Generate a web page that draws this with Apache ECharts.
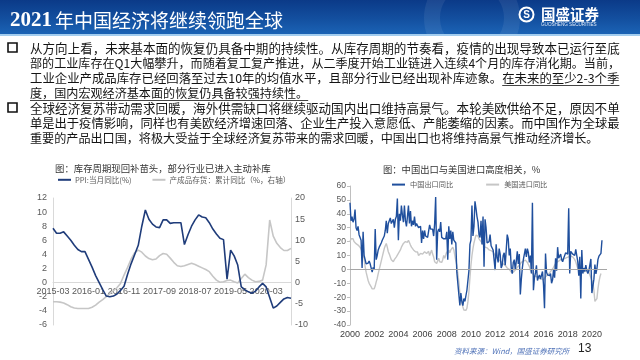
<!DOCTYPE html>
<html><head><meta charset="utf-8">
<script src="https://cdn.jsdelivr.net/npm/echarts/dist/echarts.min.js"></script>
<style>html,body{margin:0;padding:0;background:#fff;}#c{width:640px;height:360px;}</style>
</head><body><div id="c"></div>
<script>
// ---------------- text content ----------------
const slideTitle = '{a|2021}{b|年中国经济将继续领跑全球}';
const para1 = [
  '从方向上看，未来基本面的恢复仍具备中期的持续性。从库存周期的节奏看，疫情的出现导致本已运行至底',
  '部的工业库存在Q1大幅攀升，而随着复工复产推进，从二季度开始工业链进入连续4个月的库存消化期。当前，',
  '工业企业产成品库存已经回落至过去10年的均值水平，且部分行业已经出现补库迹象。在未来的至少2-3个季',
  '度，国内宏观经济基本面的恢复仍具备较强持续性。'
];
const para1Underline = '在未来的至少2-3个季';
const para2 = [
  '全球经济复苏带动需求回暖，海外供需缺口将继续驱动国内出口维持高景气。本轮美欧供给不足，原因不单',
  '单是出于疫情影响，同样也有美欧经济增速回落、企业生产投入意愿低、产能萎缩的因素。而中国作为全球最',
  '重要的产品出口国，将极大受益于全球经济复苏带来的需求回暖，中国出口也将维持高景气推动经济增长。'
];
const leftTitle = '图：库存周期现回补苗头，部分行业已进入主动补库';
const rightTitle = '图：中国出口与美国进口高度相关，%';
const ppiName = 'PPI:当月同比(%)';
const invName = '产成品存货：累计同比（%，右轴）';
const cnName = '中国出口同比';
const usName = '美国进口同比';
const sourceText = '资料来源：Wind，国盛证券研究所';
const pageNo = '13';

// ---------------- left chart data (monthly, 2015-03 .. 2020-10) ----------------
const ppiStart = [2015, 3];
const ppiYoY = [
  7.7,7.0,7.0,7.2,6.6,6.0,5.3,4.7,4.4,4.4,
  3.3,2.2,1.0,0.0,-1.0,-1.9,-2.0,-1.9,-1.6,-1.1,
  -0.5,1.2,2.7,4.0,5.3,8.0,10.3,9.0,8.3,7.9,
  7.8,8.9,8.9,8.4,8.5,8.5,8.5,5.4,6.8,8.0,
  8.9,9.6,9.3,9.2,8.5,7.6,6.9,6.3,6.1,0.5,
  4.6,3.8,2.5,-0.6,-1.0,-1.3,-1.5,-1.2,-0.6,-0.1,
  -0.6,-2.1,-3.6,-3.3,-2.8,-2.3,-2.1,-2.2
];
const inventoryYoY = [
  -4.5,-4.5,-4.6,-4.8,-5.2,-5.7,-6.0,-6.1,-6.1,-6.1,
  -6.1,-5.8,-5.3,-4.6,-4.0,-3.3,-2.6,-1.9,-1.2,-0.2,
  1.8,3.6,5.6,7.1,7.7,7.2,6.3,5.7,5.4,5.6,
  6.4,6.9,6.7,5.8,4.8,4.0,3.8,4.0,4.3,4.6,
  4.3,3.9,3.5,3.1,2.6,1.5,0.6,0.1,0.2,0.5,
  0.6,0.2,-0.1,1.0,2.0,1.2,0.6,0.2,0.3,0.6,
  4.2,14.8,11.0,9.3,8.3,7.6,7.6,8.1
];
const leftTicks = {min:-6, max:12, interval:2};
const rightTicks = {min:-10, max:20, interval:5};

// ---------------- right chart data (monthly from 2000-01) ----------------
const tradeStart = [2000, 1];
const chinaExportYoY = [
  48,35,38,34,36,43,30,28,31,25,26,21,          // 2000
  1,27,10,11,4,3,4.5,6,4,3,-2,1.5,              // 2001
  0,29,7,10,14,16,15,19,21,22,24,28,            // 2002
  35,26,33,32,37,33,32,36,30,36,38,51,          // 2003
  21,40,35,46,39,34,46,35,31,38,46,33,          // 2004
  42,31,35,32,38,31,33,32,30,29,31,19,          // 2005
  28,22,28,24,25,23,23,32,29,29,29,24,          // 2006
  33,52,7,27,29,27,34,23,23,22,23,22,           // 2007
  27,7,31,22,28,18,27,21,22,19,-2,-3,           // 2008
  -18,-26,-17,-23,-26,-21,-23,-23,-15,-14,-1,18,// 2009
  21,46,24,31,49,44,38,34,25,23,35,18,          // 2010
  38,2,36,30,19,18,20,25,17,16,14,13,           // 2011
  -0.5,18,9,5,15,11,1,3,10,12,3,14,             // 2012
  25,22,10,15,1,-3,5,7,-0.3,6,13,4,             // 2013
  11,-18,-7,1,7,7,15,9,15,12,5,10,              // 2014
  -3,48,-15,-6,-2.5,3,-8,-5.5,-4,-7,-7,-1.5,    // 2015
  -11,-28,11.5,-2,-4,-5,-4.5,-3,-10,-7.5,0,-6,  // 2016
  8,-1,16,8,9,11,7,5.5,8,7,12,11,               // 2017
  11,44,-3,13,12.5,11,12,10,14.5,15.5,5.5,-4.5, // 2018
  9,-21,14,-3,1,-1.5,3,-1,-3,-1,-1,7.5,         // 2019
  -17,-17,-7,3.5,-3.3,0.5,7,9.5,10,11.5,21      // 2020
];
const usImportYoY = [
  19.9,22,23.4,22,20,19,18.5,18,17.5,17.5,16,14.5,        // 2000
  12.7,10,8,2,-2,-5,-8,-10,-11,-12.5,-14,-14.8,           // 2001
  -14,-12,-9,-6.5,-3,0,3,6,9,12,15,17,                    // 2002
  18.7,16,12.7,11,9,7,6,5.5,7,8,9,10,                     // 2003
  11.5,12.7,14,16,17,18.7,19.5,20,19,19.5,21,20,          // 2004
  17.5,16,15,14,13,12.7,13.9,12.5,10,11,11.5,12.7,        // 2005
  11,10,12.7,13.9,11.5,12.7,13,10,12,13.9,11,9,           // 2006
  5.5,6.7,4.3,5,8,5.5,6.7,5,7,10,8,9,                     // 2007
  12.7,11,13.9,12,14,15,16,14,10,6,3,-3,                  // 2008
  -9,-17,-20,-24.4,-27,-29.2,-30.4,-29.5,-28,-23.2,-16,-6,// 2009
  3,10,15,19,22,24.6,26,24,22,21,20,19,                   // 2010
  18,17.5,16,16,15.5,15,14,13.9,13.5,13,12.7,11.5,        // 2011
  10,9,8,7,6.7,6,5.5,5,4,3.5,3,2,                         // 2012
  1,0.7,0,-0.5,-2,-3,-2,-1,-0.5,0.5,1.5,2,                // 2013
  3,4,5,5.5,6,6.5,6.7,6,5,4.3,2,-0.5,                     // 2014
  -2,-3,-4,-4.5,-5,-5.3,-5.5,-6,-6.5,-6.5,-7,-7.7,        // 2015
  -7.5,-6.5,-5.3,-5,-4,-3,-2.5,-1.5,-0.5,0.7,1.5,3,       // 2016
  4.3,5,5.5,6,6.7,7,7.4,7.4,7.5,7.8,8,8.5,                // 2017
  9,9,9,9.5,9,9,8,7,5.5,3,0.7,0,                          // 2018
  -0.5,-0.5,-1,-1.5,-1.7,-1.5,-1,-0.5,-0.5,-2,-4,-6,      // 2019
  -8,-10,-15,-23,-24,-21,-14,-9,-5.3,-3,null              // 2020
];
const tradeTicks = {min:-40, max:60, interval:10};
const tradeAxisMonths = 256; // axis runs 2000-01 .. 2021-04

// ---------------- helpers ----------------
function monthRange(start, count){
  const out=[]; let y=start[0], m=start[1];
  for(let i=0;i<count;i++){ out.push(y+'-'+String(m).padStart(2,'0')); m++; if(m>12){m=1;y++;} }
  return out;
}
const ppiMonths = monthRange(ppiStart, ppiYoY.length);
const tradeMonths = monthRange(tradeStart, tradeAxisMonths);

const CJK = '"Noto Sans CJK SC", sans-serif';
const NUM = '"Liberation Sans Narrow", "Arial Narrow", "Liberation Sans", sans-serif';
const ctx = document.createElement('canvas').getContext('2d');
function tw(s, size){ ctx.font = size + 'px ' + CJK; return ctx.measureText(s).width; }

const textLeft = 30, textRight = 620, baseSize = 12.1;
const graphics = [];
// title bar
graphics.push({type:'rect', z:0, shape:{x:0,y:0,width:640,height:34}, style:{fill:new echarts.graphic.LinearGradient(0,0,0,1,[{offset:0,color:'#0b3a88'},{offset:0.55,color:'#134f9f'},{offset:1,color:'#1b63b5'}])}});
graphics.push({type:'circle', z:1, shape:{cx:472,cy:18,r:40}, style:{fill:'none', stroke:'rgba(255,255,255,0.07)', lineWidth:16}});
graphics.push({type:'rect', z:1, shape:{x:0,y:34,width:640,height:2}, style:{fill:'#a3cdef'}});
graphics.push({type:'text', z:2, x:10, y:20.5, style:{text:slideTitle, verticalAlign:'middle', textVerticalAlign:'middle',
  rich:{a:{fontFamily:'"Liberation Serif", serif', fontWeight:'bold', fontSize:21, fill:'#fff', color:'#fff'},
        b:{fontFamily:CJK, fontSize:19, fill:'#fff', color:'#fff', padding:[0,0,0,3]}}}});
// logo
graphics.push({type:'circle', z:2, shape:{cx:526.5,cy:14.5,r:7}, style:{fill:'none', stroke:'#fff', lineWidth:2}});
graphics.push({type:'text', z:2, x:526.5, y:14.8, style:{text:'S', fontFamily:'"Liberation Sans", sans-serif', fontWeight:'bold', fontSize:10, fill:'#fff', align:'center', textAlign:'center', verticalAlign:'middle', textVerticalAlign:'middle'}});
graphics.push({type:'text', z:2, x:541, y:14, style:{text:'国盛证券', fontFamily:CJK, fontWeight:'bold', fontSize:14.5, fill:'#fff', verticalAlign:'middle', textVerticalAlign:'middle'}});
graphics.push({type:'text', z:2, x:541, y:24.5, style:{text:'GUOSHENG SECURITIES', fontFamily:'"Liberation Sans", sans-serif', fontSize:4.6, fill:'#dfe9f7', verticalAlign:'middle', textVerticalAlign:'middle'}});

function addPara(lines, ys, justified, underlineFrom){
  lines.forEach((s,i)=>{
    let size = baseSize;
    if(justified[i]) size = baseSize*(textRight-textLeft)/tw(s, baseSize);
    graphics.push({type:'text', z:2, x:textLeft, y:ys[i], style:{text:s, fontFamily:CJK, fontSize:size, fill:'#141414', verticalAlign:'middle', textVerticalAlign:'middle'}});
    if(underlineFrom && underlineFrom[i] !== undefined){
      const k = underlineFrom[i] === 0 ? 0 : s.indexOf(underlineFrom[i]);
      const x1 = textLeft + (k>0 ? tw(s.slice(0,k), size) : 0);
      const x2 = textLeft + tw(s, size);
      graphics.push({type:'line', z:2, shape:{x1:x1,y1:ys[i]+7.5,x2:x2,y2:ys[i]+7.5}, style:{stroke:'#141414', lineWidth:0.8}});
    }
  });
}
addPara(para1, [48,63,78,93], [true,true,true,false], {2:para1Underline, 3:0});
addPara(para2, [108,123,138], [true,true,false], null);
[43,103].forEach(y=>graphics.push({type:'rect', z:2, shape:{x:8,y:y,width:9,height:9}, style:{fill:'#fff', stroke:'#111', lineWidth:1.6}}));
// footer
graphics.push({type:'text', z:2, x:454, y:351, style:{text:sourceText, fontFamily:CJK, fontStyle:'italic', fontSize:7.5, fill:'#4f72b8', verticalAlign:'middle', textVerticalAlign:'middle'}});
graphics.push({type:'text', z:2, x:578, y:349, style:{text:pageNo, fontFamily:'"Liberation Sans", sans-serif', fontSize:12, fill:'#222', verticalAlign:'middle', textVerticalAlign:'middle'}});

const axisLbl = {fontFamily:NUM, fontSize:9, color:'#595959'};
const leftGrid = {left:53, top:198, width:238, height:127};
// x axis sits on the zero of the left value axis
const zeroOffset = -leftGrid.height * (0 - leftTicks.min) / (leftTicks.max - leftTicks.min);

const option = {
  animation:false,
  backgroundColor:'#fff',
  graphic:{elements:graphics},
  title:[
    {text:leftTitle, left:55, top:162, padding:0, textStyle:{fontFamily:CJK, fontSize:9.4, fontWeight:'normal', color:'#333', lineHeight:12}},
    {text:rightTitle, left:383, top:163, padding:0, textStyle:{fontFamily:CJK, fontSize:9.3, fontWeight:'normal', color:'#333', lineHeight:12}}
  ],
  legend:[
    {data:[ppiName, invName], left:58, top:176, padding:0, itemWidth:13, itemHeight:2, itemGap:21, icon:'rect',
     textStyle:{fontFamily:CJK, fontSize:7.6, color:'#595959', padding:[0,0,0,-1]}},
    {data:[cnName, usName], left:392, top:181, padding:0, itemWidth:13, itemHeight:2, itemGap:33, icon:'rect',
     textStyle:{fontFamily:CJK, fontSize:7.2, color:'#595959'}}
  ],
  grid:[
    leftGrid,
    {left:350, top:186, width:257, height:139}
  ],
  xAxis:[
    {type:'category', gridIndex:0, data:ppiMonths, boundaryGap:false, position:'bottom', offset:zeroOffset,
     axisLine:{show:true, onZero:false, lineStyle:{color:'#d9d9d9', width:1}},
     axisTick:{show:false}, axisLabel:Object.assign({interval:9, margin:4}, axisLbl), splitLine:{show:false}},
    {type:'category', gridIndex:1, data:tradeMonths, boundaryGap:false,
     axisLine:{show:false, onZero:false}, axisTick:{show:false},
     axisLabel:Object.assign({interval:(i)=>i%24===0, formatter:(v)=>v.slice(0,4), margin:5}, axisLbl, {color:'#404040'}),
     splitLine:{show:false}}
  ],
  yAxis:[
    {type:'value', gridIndex:0, position:'left', min:leftTicks.min, max:leftTicks.max, interval:leftTicks.interval,
     axisLine:{show:true, lineStyle:{color:'#d9d9d9'}}, axisTick:{show:false}, splitLine:{show:false},
     axisLabel:Object.assign({margin:6}, axisLbl)},
    {type:'value', gridIndex:0, position:'right', min:rightTicks.min, max:rightTicks.max, interval:rightTicks.interval,
     axisLine:{show:true, lineStyle:{color:'#d9d9d9'}}, axisTick:{show:false}, splitLine:{show:false},
     axisLabel:Object.assign({margin:4}, axisLbl)},
    {type:'value', gridIndex:1, min:tradeTicks.min, max:tradeTicks.max, interval:tradeTicks.interval,
     axisLine:{show:true, lineStyle:{color:'#bfbfbf'}}, axisTick:{show:true, length:3, lineStyle:{color:'#bfbfbf'}},
     splitLine:{show:false}, axisLabel:Object.assign({margin:4}, axisLbl, {fontSize:8.5})}
  ],
  series:[
    {name:invName, type:'line', xAxisIndex:0, yAxisIndex:1, data:inventoryYoY, symbol:'none',
     lineStyle:{color:'#c6c6c6', width:1.6}, itemStyle:{color:'#c6c6c6'}, z:2},
    {name:ppiName, type:'line', xAxisIndex:0, yAxisIndex:0, data:ppiYoY, symbol:'none',
     lineStyle:{color:'#1f3c7a', width:1.6}, itemStyle:{color:'#1f3c7a'}, z:3},
    {name:usName, type:'line', xAxisIndex:1, yAxisIndex:2, data:usImportYoY, symbol:'none',
     lineStyle:{color:'#c6c6c6', width:1.4}, itemStyle:{color:'#c6c6c6'}, z:2,
     markLine:{silent:true, symbol:['none','none'], label:{show:false}, data:[{yAxis:0}],
       lineStyle:{color:'#a6a6a6', width:1, type:'solid'}}},
    {name:cnName, type:'line', xAxisIndex:1, yAxisIndex:2, data:chinaExportYoY, symbol:'none',
     lineStyle:{color:'#1f4f9d', width:1.4}, itemStyle:{color:'#1f4f9d'}, z:3}
  ]
};
const chart = echarts.init(document.getElementById('c'), null, {renderer:'canvas'});
chart.setOption(option);
</script>
</body></html>
